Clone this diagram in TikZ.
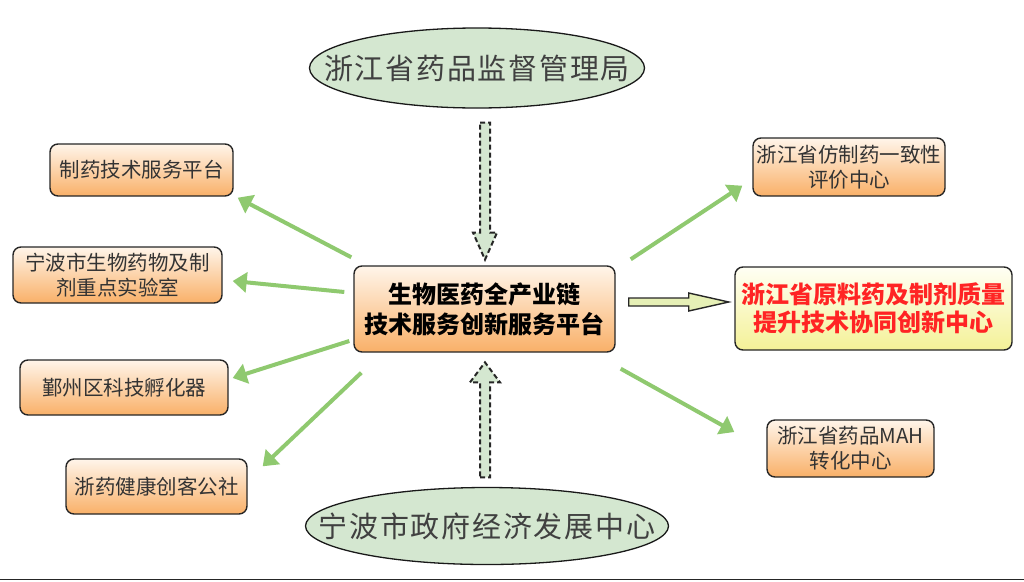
\documentclass[tikz,border=0pt]{standalone}
\usepackage{fontspec}
\setmainfont{Noto Sans CJK SC}
\newfontfamily\govfont[LetterSpace=6]{Noto Sans CJK SC}
\usetikzlibrary{shapes.geometric}
\usetikzlibrary{arrows.meta}
\usetikzlibrary{calc}
\definecolor{boxtop}{HTML}{FFF5EA}
\definecolor{boxbot}{HTML}{F9B068}
\definecolor{keytop}{HTML}{FFFFF4}
\definecolor{keybot}{HTML}{F4F197}
\definecolor{keyred}{HTML}{FF2424}
\definecolor{govgreen}{HTML}{D4E7D0}
\definecolor{linkgreen}{HTML}{8FC96F}
\definecolor{blockfill}{HTML}{E6F0B6}
\tikzset{
  boxnode/.style = {align=center, inner sep=0pt, text centered,
    rounded corners=8pt, draw=black!85, line width=1.4pt, text=black!80},
  plat_n/.style = {boxnode, top color=boxtop, bottom color=boxbot,
    font=\fontsize{20.5}{25}\selectfont},% platform box
  hub_n/.style = {boxnode, top color=boxtop, bottom color=boxbot, text=black,
    font=\fontsize{24}{30}\selectfont\bfseries},% central box
  key_n/.style = {boxnode, top color=keytop, bottom color=keybot, text=keyred,
    font=\fontsize{24}{28}\selectfont\bfseries},% key centre, red text
  gov_n/.style = {ellipse, draw=black!90, line width=1.3pt, fill=govgreen,
    inner sep=0pt},% ellipse, text set as label
  gov_t/.style = {inner sep=0pt, text=black!75,
    font=\govfont\fontsize{29}{29}\selectfont},% ellipse text
  link_e/.style = {draw=linkgreen, line width=4pt,
    -{Triangle[length=14pt,width=20pt]}},% green link
  block_e/.style = {draw=black!85, line width=1.4pt, fill=blockfill,
    line join=miter},% block arrow
  dash_e/.style = {draw=black!85, line width=2pt, fill=govgreen,
    dash pattern=on 5pt off 3pt},% dashed block arrow
}

\begin{document}
\begin{tikzpicture}[x=1pt,y=-1pt]
\useasboundingbox (0,0) rectangle (1024,581);

% ellipses
\node [gov_n, minimum width=335pt, minimum height=80pt,
  label={[gov_t, name=smjtxt]center:浙江省药品监督管理局}] (smj) at (477,68) {};
\node [gov_n, minimum width=363pt, minimum height=77pt,
  label={[gov_t, name=nbctxt]center:宁波市政府经济发展中心}] (nbc) at (487,526) {};

% centre
\node [hub_n, minimum width=261pt, minimum height=86pt] (hub) at (484.5,309) {生物医药全产业链\\技术服务创新服务平台};
\node [key_n, minimum width=277pt, minimum height=83pt] (key) at (873.5,308.5) {浙江省原料药及制剂质量\\提升技术协同创新中心};

% right side
\node [plat_n, minimum width=192pt, minimum height=58pt] (fzy) at (849,167) {浙江省仿制药一致性\\评价中心};
\node [plat_n, minimum width=167pt, minimum height=57pt] (mah) at (850.5,448.5) {浙江省药品MAH\\转化中心};

% left side
\node [plat_n, minimum width=183pt, minimum height=52pt] (zyp) at (141.5,170) {制药技术服务平台};
\node [plat_n, minimum width=209pt, minimum height=56pt] (lab) at (117.5,275) {宁波市生物药物及制\\剂重点实验室};
\node [plat_n, minimum width=208pt, minimum height=55pt] (fhq) at (124,387.5) {鄞州区科技孵化器};
\node [plat_n, minimum width=181pt, minimum height=55pt] (ckgs) at (156.5,486.5) {浙药健康创客公社};

% green links
\draw [link_e] ($(hub.north west)+(-2,-8)$) -- ($(zyp.south east)+(4,1)$);
\draw [link_e] ($(hub.west)+(-9,-17)$) -- ($(lab.east)+(10,6)$);
\draw [link_e] ($(hub.west)+(-4,32)$) -- ($(fhq.east)+(4,-9.5)$);
\draw [link_e] ($(hub.south west)+(8,20)$) -- ($(ckgs.north east)+(15,8)$);
\draw [link_e] ($(hub.north east)+(15,-6)$) -- ($(fzy.south west)+(-10,-11)$);
\draw [link_e] ($(hub.south east)+(5,16)$) -- ($(mah.west)+(-32,-16.5)$);

% block arrow to key centre
\draw [block_e] ($(hub.east)+(13,-11)$) -- ++(60,0) -- ++(0,-5) -- ++(40,9)
  -- ++(-40,9) -- ++(0,-5) -- ++(-60,0) -- cycle;

% dashed arrows
\draw [dash_e] ($(smj.south)+(3,14)$) -- ++(10,0) -- ++(0,110) -- ++(7,0)
  -- ++(-12,27) -- ++(-12,-27) -- ++(7,0) -- cycle;
\draw [dash_e] ($(nbc.north)+(-7,-9.5)$) -- ++(10,0) -- ++(0,-95) -- ++(10,0)
  -- ++(-15,-20) -- ++(-15,20) -- ++(10,0) -- cycle;

% bottom rule
\draw [line width=1.5pt, black!85] (0,579.5) -- (1024,579.5);
\end{tikzpicture}
\end{document}
